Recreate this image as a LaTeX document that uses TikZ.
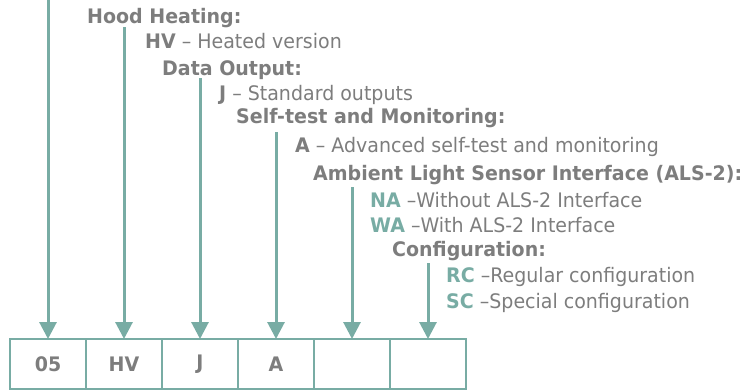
\documentclass[tikz,border=0pt]{standalone}
\usepackage{fontspec}
\setmainfont[FakeStretch=0.95]{DejaVu Sans}
\usepackage{xcolor}
\usetikzlibrary{arrows.meta, positioning}
\definecolor{codeteal}{RGB}{120,172,164}
\definecolor{codegray}{RGB}{125,125,125}
\tikzset{
	font = {\fontsize{20pt}{24pt}\selectfont},
	head/.style = {anchor = base west, inner sep = 0pt, text = codegray, font = {\fontsize{20pt}{24pt}\selectfont\bfseries}},
	opt/.style = {anchor = base west, inner sep = 0pt, text = codegray},
	field/.style = {rectangle, draw = codeteal, line width = 2pt, minimum width = 76pt, minimum height = 50pt, inner sep = 0pt, outer sep = 0pt, text = codegray, font = {\fontsize{20pt}{22pt}\selectfont\bfseries}},
	arrow/.style = {-{Triangle[width = 17pt, length = 17pt]}, draw = codeteal, line width = 3pt}
}
\newcommand{\code}[1]{\textbf{\color{codeteal}#1}}

\begin{document}
\begin{tikzpicture}[x = 1pt, y = -1pt]
	\useasboundingbox (0,0) rectangle (744,391);
	
	%%%%%%%% code fields %%%%%%%%
	\node (f1) [field] at (48,364) {05};
	\node (f2) [field, right = 0pt of f1] {HV};
	\node (f3) [field, right = 0pt of f2] {J};
	\node (f4) [field, right = 0pt of f3] {A};
	\node (f5) [field, right = 0pt of f4] {};
	\node (f6) [field, right = 0pt of f5] {};
	
	%%%%%%%% descriptions %%%%%%%%
	\node (hood) [head] at (87,23) {Hood Heating:};
	\node (hv) [opt] at (145,48) {\textbf{HV} -- Heated version};
	\node (data) [head] at (162,75) {Data Output:};
	\node (j) [opt] at (219,100) {\textbf{J} -- Standard outputs};
	\node (self) [head] at (236,123) {Self-test and Monitoring:};
	\node (a) [opt] at (295,152) {\textbf{A} -- Advanced self-test and monitoring};
	\node (als) [head] at (313,180) {Ambient Light Sensor Interface (ALS-2):};
	\node (na) [opt] at (370,207) {\code{NA} --Without ALS-2 Interface};
	\node (wa) [opt] at (370,232) {\code{WA} --With ALS-2 Interface};
	\node (conf) [head] at (392,256) {Configuration:};
	\node (rc) [opt] at (446,282) {\code{RC} --Regular configuration};
	\node (sc) [opt] at (446,308) {\code{SC} --Special configuration};
	
	% arrow starts
	\coordinate (s1) at (f1.north |- 0,0);
	\coordinate (s2) at (f2.north |- 0,27);
	\coordinate (s3) at (f3.north |- 0,78);
	\coordinate (s4) at (f4.north |- 0,132);
	\coordinate (s5) at (f5.north |- 0,187);
	\coordinate (s6) at (f6.north |- 0,263);
	
	%%% arrows %%%
	\draw [arrow] (s1) -- (f1.north);
	\draw [arrow] (s2) -- (f2.north);
	\draw [arrow] (s3) -- (f3.north);
	\draw [arrow] (s4) -- (f4.north);
	\draw [arrow] (s5) -- (f5.north);
	\draw [arrow] (s6) -- (f6.north);
\end{tikzpicture}
\end{document}
